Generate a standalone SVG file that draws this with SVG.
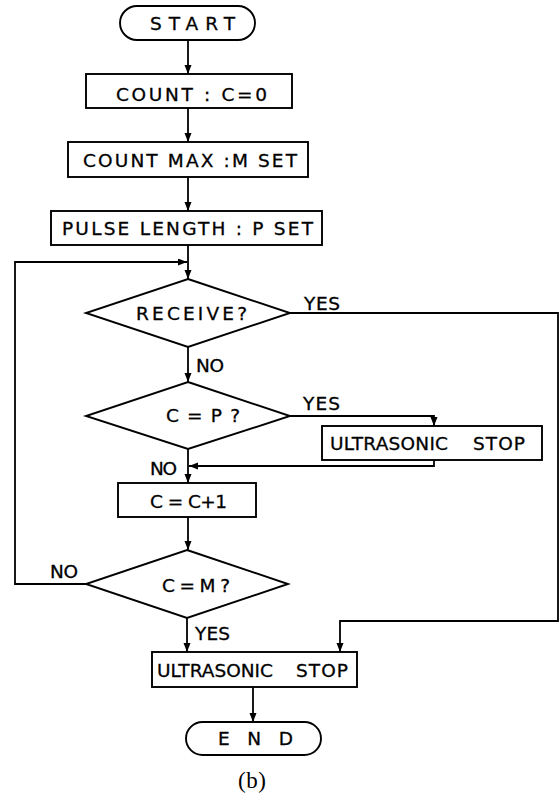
<svg xmlns="http://www.w3.org/2000/svg" width="560" height="799" viewBox="0 0 560 799">
<style>
.s{fill:#fff;stroke:#000;stroke-width:1.9}
.c{fill:none;stroke:#000;stroke-width:1.8}
.t{font-family:"DejaVu Sans",sans-serif;font-size:18.5px;fill:#000;stroke:#000;stroke-width:0.3}
.b{font-family:"Liberation Serif",serif;font-size:23px;fill:#000}
</style>
<defs>
<marker id="a" markerUnits="userSpaceOnUse" markerWidth="10" markerHeight="8" refX="9" refY="3.5" orient="auto">
<path d="M0,0 L9,3.5 L0,7 z" fill="#000"/>
</marker>
</defs>
<rect width="560" height="799" fill="#fff"/>
<g id="connectors" class="c">
<line x1="188" y1="40" x2="188" y2="74" marker-end="url(#a)"/>
<line x1="188" y1="108" x2="188" y2="142" marker-end="url(#a)"/>
<line x1="188" y1="177" x2="188" y2="211" marker-end="url(#a)"/>
<line x1="188" y1="245" x2="188" y2="279" marker-end="url(#a)"/>
<polyline points="86,584 15,584 15,262 187,262" marker-end="url(#a)"/>
<line x1="188" y1="347" x2="188" y2="382" marker-end="url(#a)"/>
<polyline points="290,313 558,313 558,621 340,621 340,652" marker-end="url(#a)"/>
<polyline points="290,416 434,416 434,426" marker-end="url(#a)"/>
<polyline points="434,460 434,466 189,466" marker-end="url(#a)"/>
<line x1="188" y1="449" x2="188" y2="483" marker-end="url(#a)"/>
<line x1="188" y1="517" x2="188" y2="550" marker-end="url(#a)"/>
<line x1="187" y1="618" x2="187" y2="652" marker-end="url(#a)"/>
<line x1="253" y1="687" x2="253" y2="722" marker-end="url(#a)"/>
<text class="t" x="304" y="310" textLength="36" lengthAdjust="spacing">YES</text>
<text class="t" x="196" y="372" textLength="28" lengthAdjust="spacing">NO</text>
<text class="t" x="303" y="410" textLength="37" lengthAdjust="spacing">YES</text>
<text class="t" x="150" y="475" textLength="27" lengthAdjust="spacing">NO</text>
<text class="t" x="50" y="578" textLength="28" lengthAdjust="spacing">NO</text>
<text class="t" x="195" y="640" textLength="35" lengthAdjust="spacing">YES</text>
</g>
<g id="start">
<rect class="s" x="120" y="6" width="135" height="34" rx="17"/>
<text class="t" x="150" y="30" textLength="85" lengthAdjust="spacing">START</text>
</g>
<g id="count">
<rect class="s" x="86" y="74" width="206" height="34"/>
<text class="t" x="116" y="101" textLength="151" lengthAdjust="spacing">COUNT : C=0</text>
</g>
<g id="countmax">
<rect class="s" x="68" y="142" width="240" height="35"/>
<text class="t" x="83" y="167" textLength="214" lengthAdjust="spacing">COUNT MAX :M SET</text>
</g>
<g id="pulse">
<rect class="s" x="51" y="211" width="271" height="34"/>
<text class="t" x="62" y="235" textLength="251" lengthAdjust="spacing">PULSE LENGTH : P SET</text>
</g>
<g id="receive">
<polygon class="s" points="188,279 290,313 188,347 86,313"/>
<text class="t" x="136" y="320" textLength="111" lengthAdjust="spacing">RECEIVE?</text>
</g>
<g id="cp">
<polygon class="s" points="188,382 290,416 188,449 86,416"/>
<text class="t" x="166" y="422" textLength="74" lengthAdjust="spacing">C = P ?</text>
</g>
<g id="stop1">
<rect class="s" x="322" y="426" width="220" height="34"/>
<text class="t" y="450"><tspan x="330" textLength="118" lengthAdjust="spacing">ULTRASONIC</tspan> <tspan x="473" textLength="52" lengthAdjust="spacing">STOP</tspan></text>
</g>
<g id="inc">
<rect class="s" x="118" y="483" width="138" height="34"/>
<text class="t" x="150" y="508" textLength="77" lengthAdjust="spacing">C = C+1</text>
</g>
<g id="cm">
<polygon class="s" points="187,550 288,584 187,618 86,584"/>
<text class="t" x="162" y="592" textLength="68" lengthAdjust="spacing">C = M ?</text>
</g>
<g id="stop2">
<rect class="s" x="152" y="652" width="205" height="35"/>
<text class="t" y="677"><tspan x="157" textLength="116" lengthAdjust="spacing">ULTRASONIC</tspan> <tspan x="296" textLength="52" lengthAdjust="spacing">STOP</tspan></text>
</g>
<g id="end">
<rect class="s" x="186" y="722" width="135" height="33" rx="16.5"/>
<text class="t" x="218" y="745" textLength="75" lengthAdjust="spacing">END</text>
</g>
<text class="b" x="238" y="788" textLength="28" lengthAdjust="spacing">(b)</text>
</svg>
